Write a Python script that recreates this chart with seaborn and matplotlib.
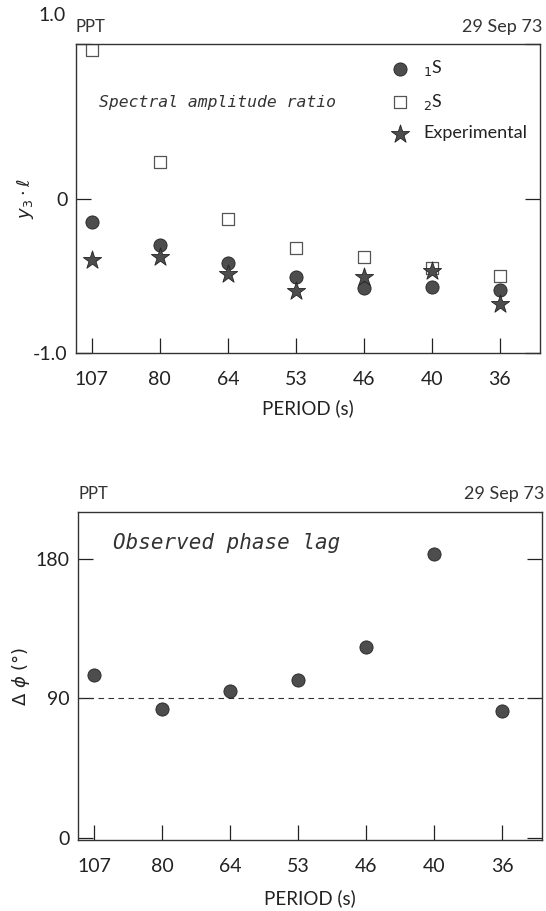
import matplotlib
matplotlib.use("Agg")
import matplotlib.pyplot as plt
import seaborn as sns
import pandas as pd

# ---- data ----
periods = ["107", "80", "64", "53", "46", "40", "36"]
s1_ratio = [-0.15, -0.30, -0.42, -0.51, -0.58, -0.57, -0.59]
s2_ratio = [0.96, 0.24, -0.13, -0.32, -0.38, -0.45, -0.50]
exp_ratio = [-0.40, -0.38, -0.49, -0.60, -0.51, -0.47, -0.68]
phase_lag = [105, 83, 95, 102, 123, 183, 82]

top_yticks = [-1.0, 0.0, 1.0]
top_yticklabels = ["-1.0", "0", ""]
top_label_1 = "1.0"
bot_yticks = [0, 90, 180]
bot_yticklabels = ["0", "90", "180"]

sns.set_style("ticks")
plt.rcParams["font.family"] = ["Lato", "DejaVu Sans"]
plt.rcParams["mathtext.fontset"] = "dejavusans"

df = pd.DataFrame({"period": periods, "s1": s1_ratio, "s2": s2_ratio,
                   "exp": exp_ratio, "lag": phase_lag})

fig = plt.figure(figsize=(5.46, 9.11), dpi=100)
ax1 = fig.add_axes([0.139, 0.6125, 0.850, 0.339])
ax2 = fig.add_axes([0.143, 0.078, 0.850, 0.360])

dark = "#4d4d4d"
sns.scatterplot(data=df, x="period", y="s1", ax=ax1, marker="o", s=90,
                color=dark, edgecolor="#222222", linewidth=0.6, label="$_1$S", zorder=3)
sns.scatterplot(data=df, x="period", y="s2", ax=ax1, marker="s", s=75,
                facecolor="white", edgecolor="#555555", linewidth=0.9, label="$_2$S", zorder=2)
sns.scatterplot(data=df, x="period", y="exp", ax=ax1, marker="*", s=190,
                color=dark, edgecolor="#222222", linewidth=0.6, label="Experimental", zorder=4)

sns.scatterplot(data=df, x="period", y="lag", ax=ax2, marker="o", s=90,
                color=dark, edgecolor="#222222", linewidth=0.6, zorder=3)
ax2.axhline(90, color="#333333", lw=0.8, ls=(0, (5, 4)), zorder=1)

for ax in (ax1, ax2):
    ax.set_xlim(-0.235, 6.59)
    ax.set_xticks(range(len(periods)))
    ax.set_xticklabels(periods)
    ax.tick_params(axis="x", direction="in", length=11, width=0.9, pad=13,
                   labelsize=14, colors="#222222")
    ax.tick_params(axis="y", direction="in", length=11, width=0.9, pad=6,
                   labelsize=14, colors="#222222", right=True)
    for sp in ax.spines.values():
        sp.set_visible(True)
        sp.set_linewidth(1.0)
        sp.set_color("#333333")
    ax.set_xlabel("PERIOD (s)", fontsize=13.5, color="#222222", labelpad=8)

ax1.set_ylim(-1.0, 1.0)
ax1.set_yticks(top_yticks)
ax1.set_yticklabels(top_yticklabels)
ax1.set_ylabel(r"$y_3\cdot\ell$", fontsize=13, color="#222222")
ax1.yaxis.set_label_coords(-0.085, 0.5)
ax1.annotate(top_label_1, xy=(0, 1.0), xycoords=("axes fraction", "data"),
             xytext=(-7, 21), textcoords="offset points", ha="right",
             va="center", fontsize=14, color="#222222")

ax2.set_ylim(-1, 210)
ax2.set_yticks(bot_yticks)
ax2.set_yticklabels(bot_yticklabels)
ax2.set_ylabel(r"$\Delta\ \phi\ (°)$", fontsize=13, color="#222222")
ax2.yaxis.set_label_coords(-0.1, 0.5)
ax2.xaxis.labelpad = 10

leg = ax1.legend(loc="upper right", frameon=False, fontsize=13,
                 handletextpad=0.3, labelspacing=0.75, borderaxespad=0.3,
                 bbox_to_anchor=(1.0, 0.995))
for t in leg.get_texts():
    t.set_color("#222222")

ax1.text(0.05, 0.812, "Spectral amplitude ratio", transform=ax1.transAxes,
         fontsize=11.8, style="italic", family=["DejaVu Sans Mono", "DejaVu Sans"],
         color="#333333", va="center")
ax2.text(0.075, 0.905, "Observed phase lag", transform=ax2.transAxes,
         fontsize=15, style="italic", family=["DejaVu Sans Mono", "DejaVu Sans"],
         color="#333333", va="center")

for ax in (ax1, ax2):
    ax.text(0.0, 1.03, "PPT", transform=ax.transAxes, fontsize=12,
            color="#333333", ha="left", va="bottom")
    ax.text(1.005, 1.03, "29 Sep 73", transform=ax.transAxes, fontsize=13,
            color="#333333", ha="right", va="bottom")

fig.savefig("out.png", dpi=100, facecolor="white")
